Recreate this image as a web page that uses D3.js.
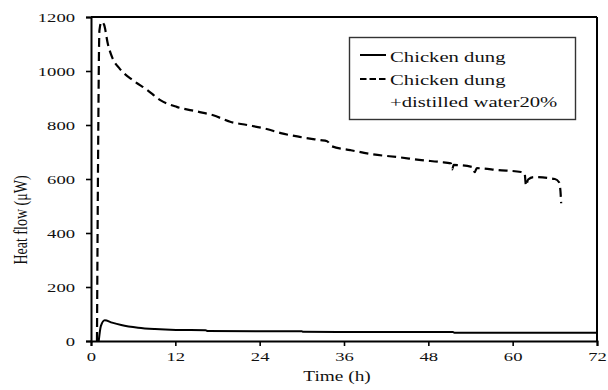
<!DOCTYPE html>
<html>
<head>
<meta charset="utf-8">
<script src="https://cdn.jsdelivr.net/npm/d3@7/dist/d3.min.js"></script>
<style>
  html, body { margin: 0; padding: 0; background: #fff; }
  svg { display: block; }
  text { font-family: "Liberation Serif", "Times New Roman", serif; fill: #111; }
</style>
</head>
<body>
<svg id="chart" width="608" height="390"></svg>
<script>
// ---- data ----
const xTicks = [0, 12, 24, 36, 48, 60, 72];
const yTicks = [0, 200, 400, 600, 800, 1000, 1200];

const seriesNames = ["Chicken dung", "Chicken dung", "+distilled water20%"];

// Chicken dung (solid)
const solidTime  = [1.1, 1.4, 1.95, 3.0, 4.3, 6.7, 9.1, 12.1, 16.3, 16.6, 30.0, 30.2, 51.5, 51.7, 72.0];
const solidValue = [0,   55,  77,   68,  59,  49,  44,  41,   40,   37,   36,   34,   33,   31,   31];

// Chicken dung + distilled water 20% (dashed)
const dashTime  = [0.85, 1.0, 1.2, 1.5, 1.85, 2.4, 3.1, 4.1, 6.0, 8.0, 9.8, 12.2, 15.1, 17.4, 19.8, 22.2, 25.0, 27.0, 29.7, 32.6, 33.6, 34.2, 36.9, 40.0, 44.0, 47.0, 49.7, 51.2, 51.4, 51.6, 54.3, 54.6, 54.9, 58.0, 61.2, 61.7, 61.9, 62.2, 63.0, 66.0, 66.6, 66.8, 66.9];
const dashValue = [0,    650, 1150, 1182, 1172, 1100, 1045, 1008, 965, 930, 893, 867, 850, 836, 812, 800, 785, 770, 756, 744, 740, 722, 707, 692, 680, 670, 663, 658, 636, 652, 644, 625, 640, 633, 626, 620, 575, 598, 607, 600, 588, 555, 510];

// ---- layout ----
const svg = d3.select("#chart");
const m = { left: 91, top: 17, right: 11, bottom: 49 };
const W = 608 - m.left - m.right;   // 506
const H = 390 - m.top - m.bottom;   // 324
const SX = 1.38; // horizontal stretch of glyphs in the reference

const x = d3.scaleLinear().domain([0, 72]).range([0, W]);
const y = d3.scaleLinear().domain([0, 1200]).range([H, 0]);

const g = svg.append("g").attr("transform", `translate(${m.left},${m.top})`);

g.append("clipPath").attr("id", "clip")
  .append("rect").attr("x", 0).attr("y", 0).attr("width", W).attr("height", H);

// frame: top and right edges
g.append("line").attr("x1", 0).attr("x2", W).attr("y1", 0).attr("y2", 0)
  .attr("stroke", "#000").attr("stroke-width", 2);
g.append("line").attr("x1", W).attr("x2", W).attr("y1", 0).attr("y2", H)
  .attr("stroke", "#000").attr("stroke-width", 2);

// axes
const yAxis = g.append("g")
  .call(d3.axisLeft(y).tickValues(yTicks).tickSize(5).tickPadding(0).tickFormat(d3.format("d")));
const xAxis = g.append("g").attr("transform", `translate(0,${H})`)
  .call(d3.axisBottom(x).tickValues(xTicks).tickSize(5).tickPadding(0).tickFormat(d3.format("d")));

[yAxis, xAxis].forEach(a => {
  a.attr("font-family", null);
  a.select(".domain").attr("stroke", "#000").attr("stroke-width", 2);
  a.selectAll(".tick line").attr("stroke", "#000").attr("stroke-width", 1.6);
  a.selectAll(".tick text").attr("font-size", 13.5).attr("fill", "#111");
});
yAxis.selectAll(".tick text")
  .attr("x", -16 / SX).attr("dy", "0.34em")
  .attr("transform", `scale(${SX},1)`);
xAxis.selectAll(".tick text")
  .attr("y", 0).attr("dy", 20)
  .attr("text-anchor", "middle")
  .attr("transform", `scale(${SX},1)`);

// lines
const line = d3.line().x(d => x(d[0])).y(d => y(d[1])).curve(d3.curveMonotoneX);
const solidData = solidTime.map((t, i) => [t, solidValue[i]]);
const dashData = dashTime.map((t, i) => [t, dashValue[i]]);

const plot = g.append("g").attr("clip-path", "url(#clip)");
plot.append("path").datum(dashData).attr("d", line)
  .attr("fill", "none").attr("stroke", "#000").attr("stroke-width", 2.2)
  .attr("stroke-dasharray", "9,5");
plot.append("path").datum(solidData).attr("d", line)
  .attr("fill", "none").attr("stroke", "#000").attr("stroke-width", 2);

// axis titles
svg.append("text")
  .attr("transform", `translate(337,381) scale(${SX},1)`)
  .attr("text-anchor", "middle").attr("font-size", 14).text("Time (h)");
svg.append("text")
  .attr("transform", `translate(27,220) scale(${SX},1) rotate(-90)`)
  .attr("text-anchor", "middle").attr("font-size", 14).text("Heat flow (\u03bcW)");

// legend
const lg = svg.append("g");
lg.append("rect").attr("x", 349.5).attr("y", 37.5).attr("width", 226).attr("height", 82)
  .attr("fill", "#fff").attr("stroke", "#333").attr("stroke-width", 1.4);
lg.append("line").attr("x1", 360).attr("x2", 386).attr("y1", 55).attr("y2", 55)
  .attr("stroke", "#000").attr("stroke-width", 2);
lg.append("line").attr("x1", 360).attr("x2", 386).attr("y1", 79).attr("y2", 79)
  .attr("stroke", "#000").attr("stroke-width", 2).attr("stroke-dasharray", "6.5,3");
const legY = [62, 85, 107];
seriesNames.forEach((s, i) => {
  lg.append("text")
    .attr("transform", `translate(390,${legY[i]}) scale(1.38,1)`)
    .attr("font-size", 15).text(s);
});
</script>
</body>
</html>
